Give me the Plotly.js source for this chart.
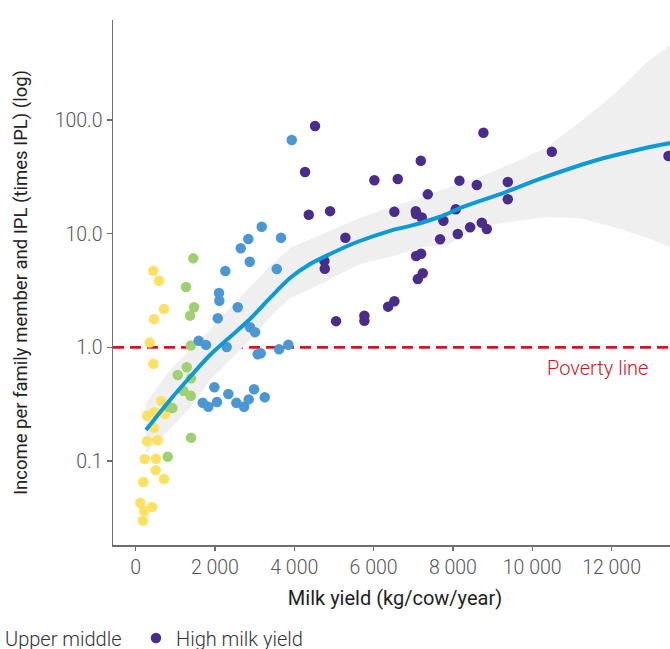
<!DOCTYPE html>
<html>
<head>
<meta charset="utf-8">
<script src="https://cdn.plot.ly/plotly-3.0.1.min.js"></script>
<style>
html, body { margin:0; padding:0; overflow:hidden; background:#fff; }
#chart { width:760px; height:649px; }
</style>
</head>
<body>
<div id="chart"></div>
<script>
// ---- Data ----
const lowX = [446, 590, 716, 464, 356, 446, 648, 288, 472, 741, 464, 288, 557, 230, 514, 507, 716, 194, 119, 414, 219, 187];
const lowY = [4.72, 3.86, 2.17, 1.77, 1.10, 0.717, 0.337, 0.250, 0.268, 0.259, 0.196, 0.149, 0.152, 0.104, 0.1045, 0.0827, 0.0693, 0.0652, 0.0429, 0.0393, 0.0362, 0.0298];

const lowerMidX = [1455, 1271, 1473, 1372, 1390, 1289, 1062, 1397, 1203, 1390, 926, 825, 1397, 810];
const lowerMidY = [6.07, 3.40, 2.25, 1.90, 1.035, 0.667, 0.570, 0.533, 0.415, 0.375, 0.292, 0.300, 0.160, 0.109];

const upperMidX = [3937, 3180, 2842, 2651, 3667, 2878, 2262, 3559, 2103, 2111, 2575, 2071, 2885, 3011, 1591, 1775, 2297, 3079, 3155, 3617, 3851, 1985, 2338, 2986, 1692, 1833, 2053, 2540, 2734, 2852, 3256];
const upperMidY = [66.8, 11.5, 8.98, 7.44, 9.22, 5.67, 4.69, 4.89, 3.01, 2.57, 2.25, 1.80, 1.50, 1.36, 1.14, 1.05, 1.006, 0.868, 0.885, 0.960, 1.054, 0.445, 0.388, 0.427, 0.325, 0.300, 0.330, 0.325, 0.300, 0.348, 0.363];

const highX = [4524, 4272, 4366, 4903, 5289, 4759, 4769, 5054, 5768, 5768, 6366, 6524, 6020, 6610, 7190, 7367, 6524, 7064, 7072, 7215, 7760, 8073, 8164, 8603, 8769, 7677, 8123, 8434, 8729, 8855, 7072, 7198, 7115, 7241, 10494, 9384, 9384, 13435];
const highY = [88.7, 34.9, 14.7, 15.8, 9.22, 5.75, 4.92, 1.70, 1.90, 1.71, 2.28, 2.54, 29.5, 30.3, 43.9, 22.2, 15.6, 15.8, 14.9, 13.9, 13.0, 16.4, 29.3, 26.8, 77.5, 8.93, 9.94, 11.4, 12.5, 11.0, 6.36, 6.67, 3.99, 4.48, 52.7, 28.5, 20.1, 48.3];

// smoothed trend and its confidence band
const trendX = [262, 868, 1372, 1876, 2381, 2885, 3390, 3894, 4398, 4903, 5584, 6416, 6996, 7677, 8257, 9266, 10123, 10956, 11788, 12645, 13452, 14000];
const trendY = [0.187, 0.344, 0.548, 0.855, 1.232, 1.775, 2.72, 4.07, 5.41, 6.63, 8.45, 10.6, 11.9, 14.1, 17.2, 22.8, 29.7, 37.5, 46.1, 54.6, 62.5, 66.8];

const bandX = [262, 868, 1372, 1877, 2381, 2885, 3390, 3894, 4726, 5584, 6416, 7248, 7853, 8685, 9518, 10375, 11207, 12039, 12897, 13477, 14000];
const bandUpper = [0.323, 0.631, 0.947, 1.42, 2.22, 3.40, 5.19, 7.48, 9.94, 13.5, 17.2, 21.0, 25.2, 31.5, 41.9, 57.9, 96.1, 166, 324, 458, 597];
const bandLower = [0.117, 0.191, 0.292, 0.515, 0.773, 1.16, 1.85, 2.72, 3.68, 5.30, 6.24, 7.64, 7.96, 11.7, 12.7, 14.0, 13.7, 11.5, 9.17, 7.64, 6.76];

const groupNames = ['Low milk yield', 'Lower middle', 'Upper middle', 'High milk yield'];
const groupColors = ['#fee160', '#a0d06f', '#4a97d5', '#4a2c8c'];
const legendWidths = [120, 115, 126, 130];

const xTickVals = [0, 2000, 4000, 6000, 8000, 10000, 12000];
const yTickVals = [0.1, 1, 10, 100];
const povertyLine = 1;

// ---- Traces ----
const FONT = 'Roboto, "Open Sans", sans-serif';
const traces = [];

traces.push({
  x: bandX.concat(bandX.slice().reverse()),
  y: bandUpper.concat(bandLower.slice().reverse()),
  type: 'scatter', mode: 'lines', fill: 'toself',
  fillcolor: '#efefef', line: {width: 0, color: 'rgba(0,0,0,0)'},
  hoverinfo: 'skip', showlegend: false
});

const groups = [[lowX, lowY], [lowerMidX, lowerMidY], [upperMidX, upperMidY], [highX, highY]];
groups.forEach((g, i) => {
  traces.push({
    x: g[0], y: g[1], type: 'scatter', mode: 'markers',
    name: groupNames[i], legendwidth: legendWidths[i],
    marker: {color: groupColors[i], size: 10.5, line: {width: 0}}
  });
});

traces.push({
  x: trendX, y: trendY, type: 'scatter', mode: 'lines',
  line: {color: '#0b9ad8', width: 4, shape: 'spline', smoothing: 0.8},
  showlegend: false, hoverinfo: 'skip'
});

const layout = {
  width: 760, height: 649,
  margin: {l: 113, r: 83, t: 20, b: 104, autoexpand: false},
  paper_bgcolor: '#fff', plot_bgcolor: '#fff',
  separators: '. ',
  font: {family: FONT, size: 18, color: '#444', weight: 300},
  showlegend: true,
  xaxis: {
    range: [-570, 13650],
    tickvals: xTickVals, tickformat: ',d',
    showgrid: false, zeroline: false,
    showline: true, linecolor: '#6e6e6e', linewidth: 1.5,
    ticks: 'outside', ticklen: 4, tickcolor: '#6e6e6e', tickwidth: 1.2,
    tickfont: {family: FONT, size: 19.5, color: '#555', weight: 300},
    title: {text: 'Milk yield (kg/cow/year)', font: {family: FONT, size: 20, color: '#222', weight: 400}, standoff: 13}
  },
  yaxis: {
    type: 'log', range: [-1.740, 2.881],
    tickvals: yTickVals, tickformat: '.1f',
    showgrid: false, zeroline: false,
    showline: true, linecolor: '#6e6e6e', linewidth: 1.5,
    ticks: 'outside', ticklen: 5, tickcolor: '#6e6e6e', tickwidth: 1.2,
    tickfont: {family: FONT, size: 19.5, color: '#555', weight: 300},
    title: {text: 'Income per family member and IPL (times IPL) (log)', font: {family: FONT, size: 18.5, color: '#222', weight: 400}, standoff: 22}
  },
  legend: {
    orientation: 'h', xanchor: 'left', x: -0.8387,
    yanchor: 'middle', y: -0.177,
    font: {family: FONT, size: 20, color: '#333', weight: 300},
    bgcolor: 'rgba(0,0,0,0)'
  },
  shapes: [{
    type: 'line', xref: 'paper', x0: 0, x1: 1, yref: 'y', y0: povertyLine, y1: povertyLine,
    line: {color: '#d7141e', width: 2.8, dash: '11px,6px'}, layer: 'below'
  }],
  annotations: [{
    text: 'Poverty line', xref: 'x', yref: 'y', x: 11636, y: Math.log10(0.657),
    xanchor: 'center', yanchor: 'middle', showarrow: false,
    font: {family: FONT, size: 20, color: '#d7141e', weight: 300}
  }]
};

Plotly.newPlot('chart', traces, layout, {displayModeBar: false, staticPlot: true});
</script>
</body>
</html>
